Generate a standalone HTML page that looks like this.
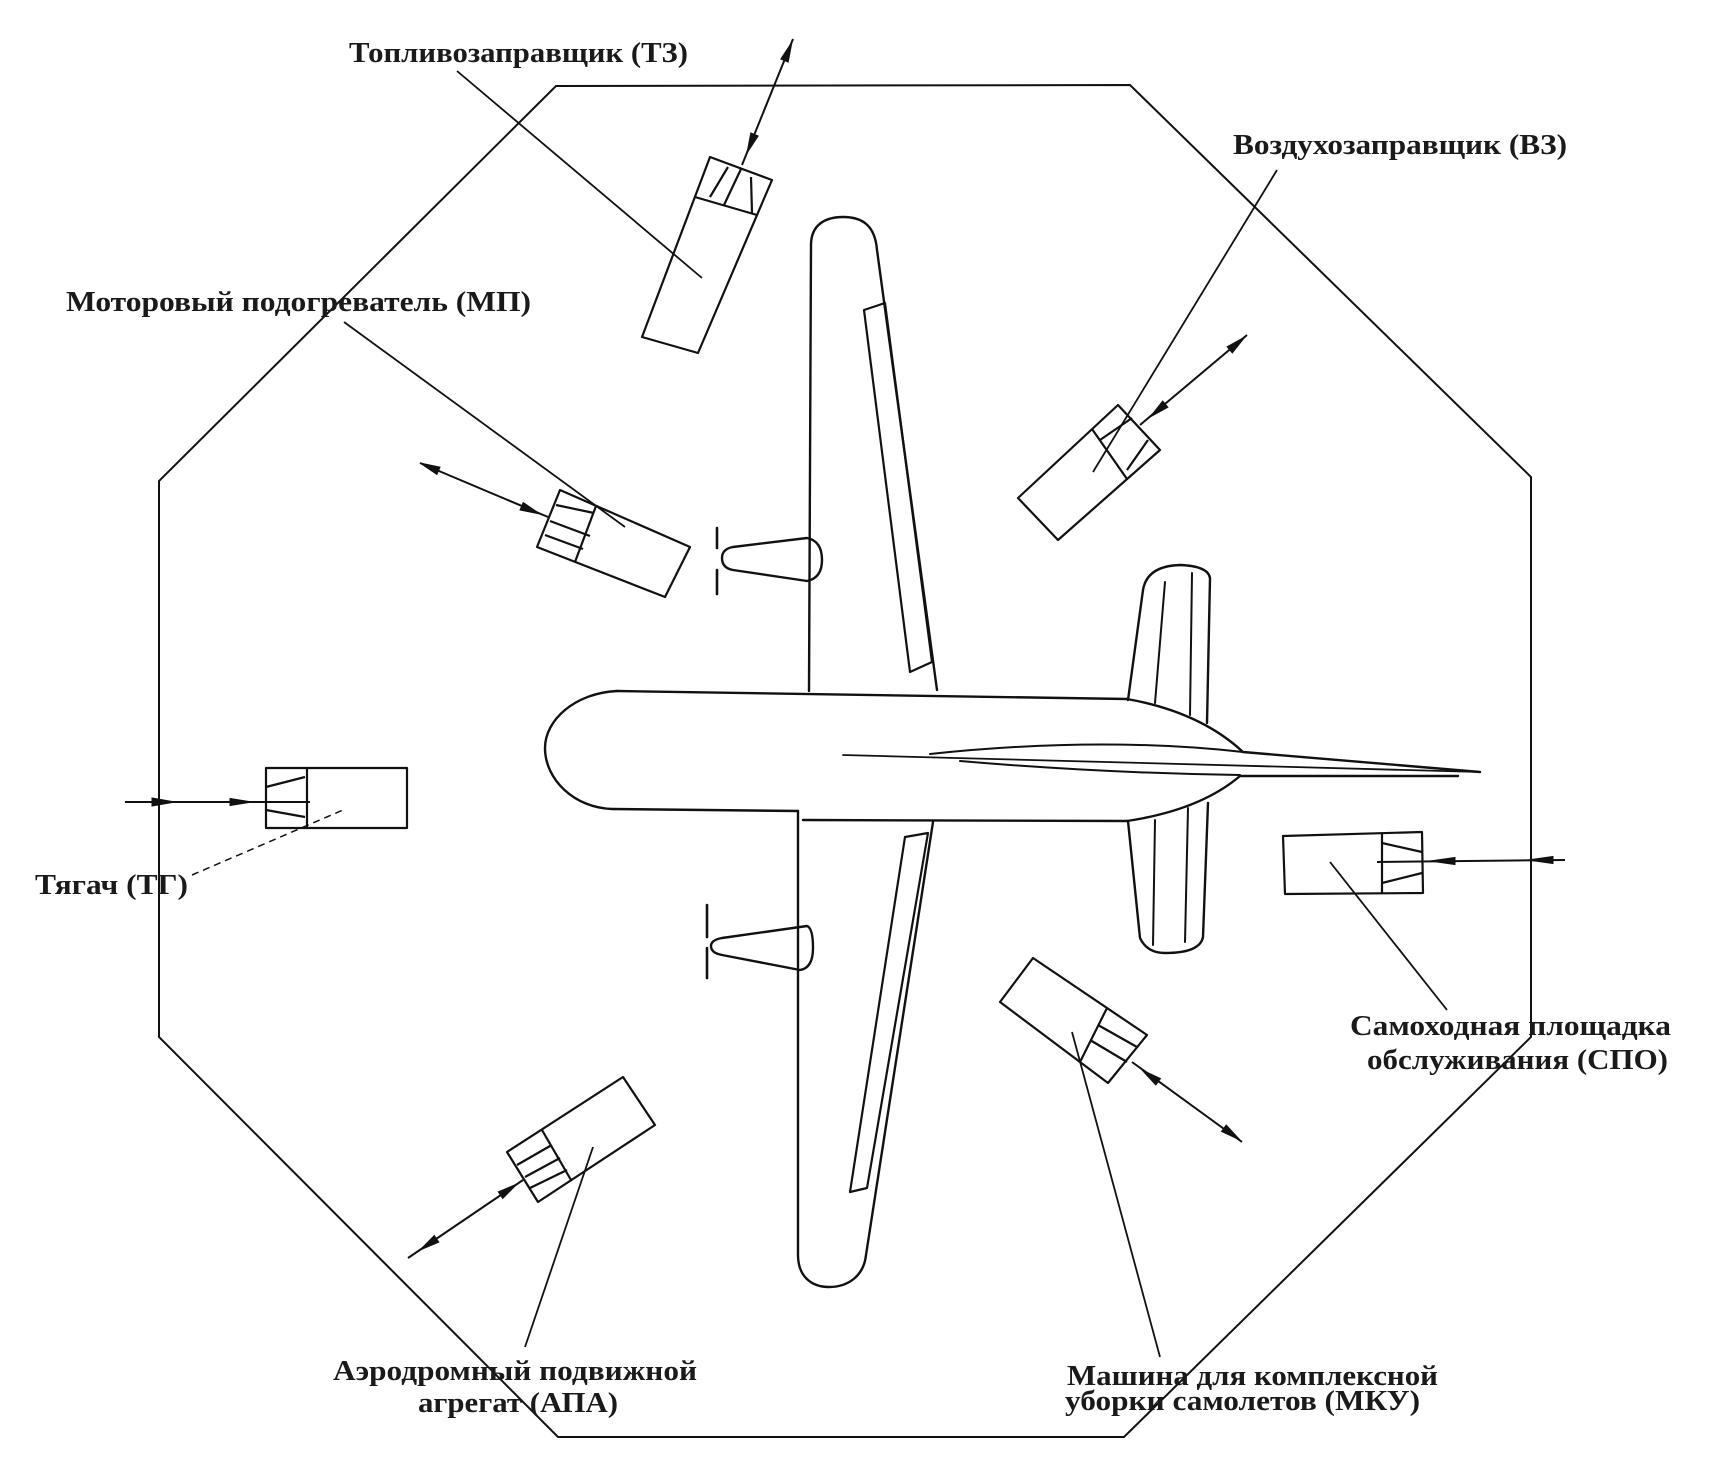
<!DOCTYPE html>
<html>
<head>
<meta charset="utf-8">
<style>
html,body{margin:0;padding:0;background:#fff;}
svg{display:block;}
text{font-family:"Liberation Serif","DejaVu Serif",serif;font-weight:bold;font-size:28px;fill:#1a1a1a;}
</style>
</head>
<body>
<svg width="1716" height="1475" viewBox="0 0 1716 1475" xmlns="http://www.w3.org/2000/svg">
<rect width="1716" height="1475" fill="#fff"/>

<!-- Octagon -->
<polygon points="556,86 1130,85 1531,477 1531,1037 1124,1437 558,1437 159,1037 159,481" fill="none" stroke="#111" stroke-width="2"/>

<g fill="none" stroke="#111" stroke-width="2.4" stroke-linejoin="round" stroke-linecap="round">
  <!-- Fuselage -->
  <path d="M 617 691 L 1127 699"/>
  <path d="M 617 691 C 575 693 545 720 545 748 C 545 780 575 808 612 809 L 798 811"/>
  <path d="M 803 820 L 1127 821"/>
  <path d="M 1127 699 Q 1200 712 1243 752 L 1480 772"/>
  <path d="M 1127 821 Q 1200 810 1240 776 L 1458 776"/>
  <!-- Tail spindle -->
  <path d="M 843 755 L 1480 772" stroke-width="1.8"/>
  <path d="M 930 754 Q 1100 736 1243 752" stroke-width="2"/>
  <path d="M 960 761 Q 1100 773 1240 775" stroke-width="2"/>

  <!-- Upper wing -->
  <path d="M 809 691 L 811 245 C 811 225 825 217 843 217 C 862 217 875 225 877 250 L 937 690"/>
  <path d="M 864 310 L 885 303 L 932 662 L 910 672 Z" stroke-width="2.2"/>
  <!-- Lower wing -->
  <path d="M 798 811 L 798 1255 C 798 1276 811 1287 829 1287 C 849 1287 864 1275 866 1255 L 933 822"/>
  <path d="M 905 837 L 928 833 L 867 1188 L 850 1192 Z" stroke-width="2.2"/>

  <!-- Nacelles -->
  <path d="M 807 538 L 733 547 Q 722 549 722 558 Q 722 568 733 570 L 807 581 Q 822 578 822 560 Q 822 541 807 538 Z"/>
  <path d="M 717 528 L 717 548 M 717 570 L 717 594" stroke-width="2.6"/>
  <path d="M 807 926 L 722 938 Q 711 940 711 946 Q 711 953 722 955 L 800 970 Q 813 968 813 948 Q 813 928 807 926 Z"/>
  <path d="M 707 905 L 707 937 M 707 948 L 707 978" stroke-width="2.6"/>

  <!-- Stabilizers -->
  <path d="M 1128 700 L 1143 590 Q 1147 566 1180 565 Q 1208 566 1210 578 L 1207 723"/>
  <path d="M 1165 582 L 1155 703 M 1192 573 L 1190 715" stroke-width="2"/>
  <path d="M 1128 821 L 1140 938 Q 1147 953 1165 953 Q 1200 953 1203 937 L 1208 803"/>
  <path d="M 1155 820 L 1153 945 M 1188 808 L 1185 942" stroke-width="2"/>
</g>

<!-- Trucks -->
<g fill="none" stroke="#111" stroke-width="2.2" stroke-linejoin="round">
  <!-- TZ -->
  <polygon points="710,157 772,180 698,353 642,337"/>
  <path d="M 695 197 L 757 215 M 710 197 L 728 167 M 724 205 L 741 169 M 751 177 L 752 213"/>
  <!-- MP -->
  <polygon points="560,490 690,547 665,597 537,547"/>
  <path d="M 596 506 L 575 562 M 556 505 L 594 513 M 550 521 L 590 536 M 545 535 L 583 549"/>
  <!-- VZ -->
  <polygon points="1018,498 1058,540 1160,450 1118,405"/>
  <path d="M 1092 429 L 1127 479 M 1100 440 L 1132 418 M 1127 470 L 1148 440"/>
  <!-- Tug -->
  <rect x="266" y="768" width="141" height="60"/>
  <path d="M 307 768 L 307 828 M 266 787 L 305 777 M 266 810 L 305 817"/>
  <!-- SPO -->
  <polygon points="1283,836 1422,832 1423,893 1285,894"/>
  <path d="M 1382 833 L 1382 893 M 1382 843 L 1422 852 M 1382 883 L 1422 873"/>
  <!-- MKU -->
  <polygon points="1033,958 1147,1035 1108,1083 1000,1002"/>
  <path d="M 1107 1008 L 1080 1062 M 1098 1025 L 1137 1047 M 1090 1040 L 1127 1062"/>
  <!-- APA -->
  <polygon points="507,1152 623,1077 655,1125 538,1202"/>
  <path d="M 542 1130 L 571 1180 M 517 1165 L 550 1146 M 525 1177 L 560 1158 M 530 1188 L 567 1170"/>
</g>

<!-- Leader lines -->
<g fill="none" stroke="#111" stroke-width="1.8">
  <path d="M 457 71 L 702 278"/>
  <path d="M 344 322 L 625 527"/>
  <path d="M 1277 170 L 1093 472"/>
  <path d="M 192 875 L 343 810" stroke-dasharray="7,5" stroke-width="1.5"/>
  <path d="M 1330 862 L 1447 1010"/>
  <path d="M 1072 1032 L 1160 1357"/>
  <path d="M 593 1147 L 525 1347"/>
</g>

<!-- Arrow lines -->
<g fill="none" stroke="#111" stroke-width="2">
  <path d="M 793 39 L 742 165"/>
  <path d="M 420 463 L 548 517"/>
  <path d="M 1247 335 L 1140 425"/>
  <path d="M 125 802 L 310 802"/>
  <path d="M 1565 860 L 1377 862"/>
  <path d="M 1132 1062 L 1242 1142"/>
  <path d="M 408 1258 L 523 1180"/>
</g>

<!-- Arrowheads -->
<g fill="#111" stroke="#111" stroke-width="1">
  <polygon points="792,42 788.2,62 780.8,59"/>
  <polygon points="747,153 758.2,136 750.8,133"/>
  <polygon points="540,514 520,510 523.2,502.5"/>
  <polygon points="420,463 436.9,474.5 440,467.1"/>
  <polygon points="1245,337 1232.3,353 1227.1,346.8"/>
  <polygon points="1150,417 1167.9,407.2 1162.7,401"/>
  <polygon points="175,802 152,798 152,806"/>
  <polygon points="252,802 230,798.5 230,805.5"/>
  <polygon points="1430,861 1455,857.5 1455,864.5"/>
  <polygon points="1528,860 1553,856.5 1553,863.5"/>
  <polygon points="1142,1070 1155.8,1085 1160.5,1078.6"/>
  <polygon points="1240,1140 1221.5,1131.4 1226.2,1125"/>
  <polygon points="420,1250 438.8,1242.1 434.3,1235.5"/>
  <polygon points="517,1184 502.7,1198.5 498.3,1191.9"/>
</g>

<!-- Labels -->
<text x="349" y="62" textLength="339" lengthAdjust="spacingAndGlyphs">Топливозаправщик (ТЗ)</text>
<text x="1233" y="154" textLength="334" lengthAdjust="spacingAndGlyphs">Воздухозаправщик (ВЗ)</text>
<text x="66" y="311" textLength="465" lengthAdjust="spacingAndGlyphs">Моторовый подогреватель (МП)</text>
<text x="35" y="894" textLength="153" lengthAdjust="spacingAndGlyphs">Тягач (ТГ)</text>
<text x="1350" y="1035" textLength="321" lengthAdjust="spacingAndGlyphs">Самоходная площадка</text>
<text x="1367" y="1069" textLength="301" lengthAdjust="spacingAndGlyphs">обслуживания (СПО)</text>
<text x="333" y="1380" textLength="364" lengthAdjust="spacingAndGlyphs">Аэродромный подвижной</text>
<text x="418" y="1412" textLength="200" lengthAdjust="spacingAndGlyphs">агрегат (АПА)</text>
<text x="1067" y="1385" textLength="371" lengthAdjust="spacingAndGlyphs">Машина для комплексной</text>
<text x="1065" y="1410" textLength="355" lengthAdjust="spacingAndGlyphs">уборки самолетов (МКУ)</text>
</svg>
</body>
</html>
